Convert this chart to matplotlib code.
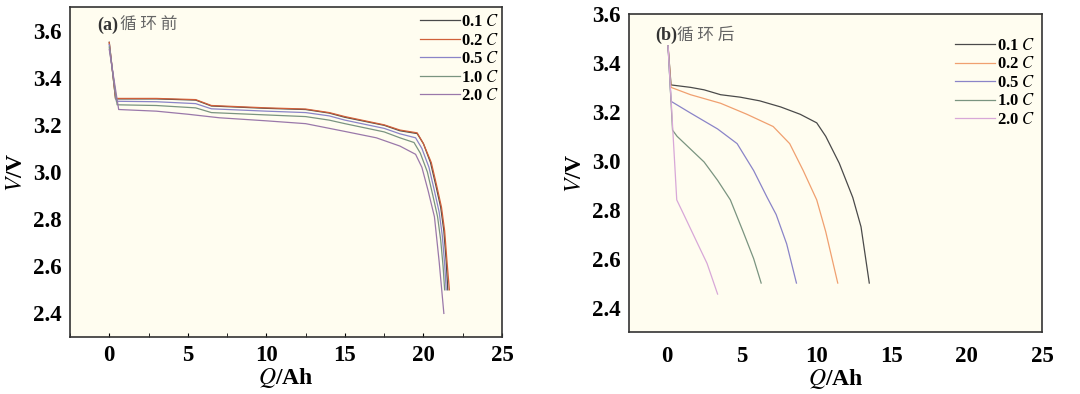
import matplotlib
matplotlib.use("Agg")
import matplotlib.pyplot as plt
from matplotlib.ticker import MultipleLocator

plt.rcParams['font.family'] = ['Liberation Serif', 'Noto Sans CJK SC']
plt.rcParams['mathtext.fontset'] = 'stix'

rates = ['0.1', '0.2', '0.5', '1.0', '2.0']
colors_a = ['#4a4a4a', '#d0603a', '#8a84c8', '#7a9480', '#9a78aa']
colors_b = ['#4a4a4a', '#f0a070', '#8a84c8', '#7a9480', '#d8a8d8']

# (a) before cycling
q01a = [0.0, 0.4, 3.0, 5.5, 6.5, 10.0, 12.5, 14.0, 15.0, 17.5, 18.5, 19.6, 20.0, 20.45, 20.8, 21.1, 21.3, 21.45, 21.55]
v01a = [3.55, 3.31, 3.31, 3.305, 3.28, 3.27, 3.265, 3.25, 3.232, 3.198, 3.175, 3.163, 3.12, 3.04, 2.94, 2.85, 2.75, 2.62, 2.50]
q02a = [0.0, 0.4, 3.0, 5.5, 6.5, 10.0, 12.5, 14.0, 15.0, 17.5, 18.5, 19.6, 20.0, 20.5, 20.85, 21.15, 21.35, 21.5, 21.65]
v02a = [3.55, 3.312, 3.312, 3.307, 3.282, 3.272, 3.267, 3.252, 3.235, 3.2, 3.178, 3.166, 3.12, 3.04, 2.94, 2.85, 2.75, 2.62, 2.50]
q05a = [0.0, 0.45, 3.0, 5.5, 6.5, 10.0, 12.5, 14.0, 15.0, 17.5, 18.5, 19.5, 19.9, 20.35, 20.7, 21.0, 21.2, 21.35, 21.45]
v05a = [3.54, 3.30, 3.298, 3.29, 3.268, 3.258, 3.252, 3.238, 3.22, 3.185, 3.162, 3.145, 3.10, 3.02, 2.92, 2.83, 2.73, 2.61, 2.50]
q10a = [0.0, 0.5, 3.0, 5.5, 6.5, 10.0, 12.5, 14.0, 15.0, 17.5, 18.5, 19.4, 19.8, 20.25, 20.6, 20.9, 21.1, 21.25, 21.35]
v10a = [3.53, 3.285, 3.282, 3.272, 3.252, 3.242, 3.235, 3.22, 3.205, 3.17, 3.145, 3.125, 3.08, 3.0, 2.9, 2.81, 2.71, 2.6, 2.50]
q20a = [0.0, 0.6, 3.0, 5.0, 7.0, 10.0, 12.5, 15.0, 17.0, 18.5, 19.5, 19.9, 20.3, 20.7, 21.0, 21.3]
v20a = [3.52, 3.265, 3.258, 3.245, 3.23, 3.217, 3.205, 3.172, 3.145, 3.11, 3.075, 3.02, 2.92, 2.81, 2.62, 2.40]

# (b) after cycling
q01b = [0.1, 0.3, 1.6, 2.5, 3.6, 4.9, 6.2, 7.6, 8.9, 10.0, 10.6, 11.5, 12.4, 12.95, 13.5]
v01b = [3.47, 3.31, 3.30, 3.29, 3.27, 3.26, 3.245, 3.22, 3.19, 3.155, 3.10, 2.99, 2.85, 2.73, 2.50]
q02b = [0.1, 0.3, 1.6, 3.6, 5.35, 7.1, 8.2, 9.1, 10.0, 10.6, 11.4]
v02b = [3.47, 3.30, 3.27, 3.235, 3.19, 3.14, 3.07, 2.96, 2.84, 2.71, 2.50]
q05b = [0.1, 0.3, 1.6, 3.4, 4.7, 5.8, 6.7, 7.3, 8.0, 8.65]
v05b = [3.47, 3.243, 3.195, 3.13, 3.07, 2.96, 2.85, 2.78, 2.66, 2.50]
q10b = [0.1, 0.4, 0.7, 2.5, 3.4, 4.25, 5.1, 5.8, 6.3]
v10b = [3.47, 3.125, 3.10, 2.995, 2.92, 2.84, 2.71, 2.60, 2.50]
q20b = [0.1, 0.68, 1.15, 2.0, 2.7, 3.4]
v20b = [3.47, 2.84, 2.78, 2.67, 2.58, 2.455]

data_a = [(q01a, v01a), (q02a, v02a), (q05a, v05a), (q10a, v10a), (q20a, v20a)]
data_b = [(q01b, v01b), (q02b, v02b), (q05b, v05b), (q10b, v10b), (q20b, v20b)]

fig = plt.figure(figsize=(10.8, 3.94), dpi=100)
ax1 = fig.add_axes([0.0648, 0.1447, 0.400, 0.8376])
ax2 = fig.add_axes([0.5824, 0.1574, 0.3824, 0.8071])

bg = '#fffdf0'
panels = [(ax1, data_a, colors_a, (2.3, 3.7), '(a)', '循 环 前', (0.945, 0.995, 0.978)),
          (ax2, data_b, colors_b, (2.3, 3.6), '(b)', '循 环 后', (0.932, 0.983, 0.925))]

for ax, data, cols, ylim, tag, txt, (ty, lx, ly) in panels:
    ax.set_facecolor(bg)
    for (q, v), c, r in zip(data, cols, rates):
        ax.plot(q, v, color=c, lw=0.9, label=r + r' $\mathit{C}$')
    ax.set_xlim(-2.5, 25)
    ax.set_ylim(*ylim)
    ax.xaxis.set_major_locator(MultipleLocator(5))
    ax.yaxis.set_major_locator(MultipleLocator(0.2))
    ax.yaxis.set_major_formatter(plt.FormatStrFormatter('%.1f'))
    for lab in ax.get_xticklabels() + ax.get_yticklabels():
        lab.set_fontweight('bold')
        lab.set_fontsize(16.5)
    ax.tick_params(axis='y', length=0, pad=6)
    for s in ax.spines.values():
        s.set_linewidth(1.2)
        s.set_color('#333333')
    ax.set_xlabel(r'$\mathit{Q}$/Ah', fontsize=17, fontweight='bold', labelpad=0)
    ax.set_ylabel(r'$\mathit{V}$/V', fontsize=17, fontweight='bold', labelpad=4)
    ax.text(0.063, ty, tag, transform=ax.transAxes, fontsize=13, fontweight='bold',
            color='#333333', va='center', ha='left')
    ax.text(0.063 + 0.052 * (0.4 / ax.get_position().width), ty, txt, transform=ax.transAxes,
            fontsize=12, color='#666666', va='center', ha='left',
            family=['Noto Sans CJK SC', 'DejaVu Sans'])
    leg = ax.legend(loc='upper right', bbox_to_anchor=(lx, ly), frameon=False,
                    fontsize=12, handlelength=2.4, handletextpad=0.1,
                    labelspacing=0.15, borderaxespad=0, borderpad=0)
    for t in leg.get_texts():
        t.set_fontweight('bold')

ax1.xaxis.set_minor_locator(MultipleLocator(2.5))
ax1.tick_params(axis='x', which='both', direction='in', length=3, pad=6)
ax2.tick_params(axis='x', which='both', length=0, pad=10)

fig.savefig('out.png', dpi=100, facecolor='white')
